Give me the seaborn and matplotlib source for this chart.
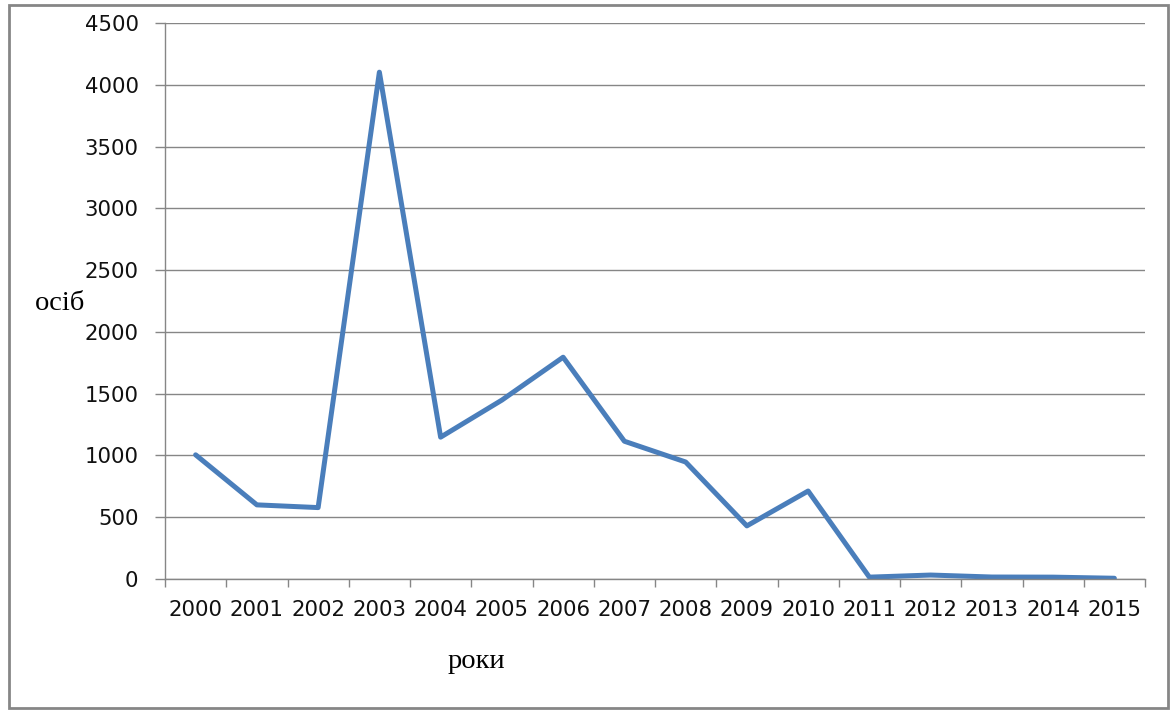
import matplotlib
matplotlib.use("Agg")
import matplotlib.pyplot as plt
import seaborn as sns
import pandas as pd
from matplotlib.patches import Rectangle
from matplotlib.ticker import FixedLocator

years = ["2000", "2001", "2002", "2003", "2004", "2005", "2006", "2007",
         "2008", "2009", "2010", "2011", "2012", "2013", "2014", "2015"]
persons = [1005, 600, 578, 4102, 1148, 1448, 1795, 1115, 947, 430, 712,
           15, 32, 16, 15, 6]
y_ticks = [0, 500, 1000, 1500, 2000, 2500, 3000, 3500, 4000, 4500]

df = pd.DataFrame({"year": years, "persons": persons})

sns.set_style("white")
plt.rcParams['font.family'] = ['DejaVu Sans']

fig = plt.figure(figsize=(11.73, 7.10), dpi=100)
ax = fig.add_axes([165 / 1173, 1 - 579 / 710, (1145 - 165) / 1173, (579 - 23) / 710])

sns.lineplot(data=df, x="year", y="persons", ax=ax, color="#4A7EBB",
             linewidth=3.6, sort=False)

ax.set_xlim(-0.5, len(years) - 0.5)
ax.set_ylim(0, 4500)
ax.set_yticks(y_ticks)
ax.set_yticklabels([str(v) for v in y_ticks], fontsize=15.3, color="#111111")
ax.set_xticks(range(len(years)))
ax.set_xticklabels(years, fontsize=15.3, color="#111111")
ax.xaxis.set_minor_locator(FixedLocator([i - 0.5 for i in range(len(years) + 1)]))
ax.tick_params(axis="x", which="major", bottom=True, length=0, pad=15)
ax.tick_params(axis="x", which="minor", bottom=True, length=6, width=1,
               color="#868686", direction="out")
ax.tick_params(axis="y", which="major", left=True, length=7, width=1,
               color="#868686", direction="out", pad=12)
ax.set_xlabel("")
ax.set_ylabel("")

ax.grid(axis="y", color="#868686", linewidth=1)
ax.grid(axis="x", visible=False)
ax.set_axisbelow(True)
for side in ["top", "right"]:
    ax.spines[side].set_visible(False)
for side in ["left", "bottom"]:
    ax.spines[side].set_color("#868686")
    ax.spines[side].set_linewidth(1)

fig.text(60 / 1173, 1 - 303 / 710, "осіб", fontsize=20.5, family=["Liberation Serif"],
         ha="center", va="center", color="#000000")
fig.text(476 / 1173, 1 - 661 / 710, "роки", fontsize=20.5, family=["Liberation Serif"],
         ha="center", va="center", color="#000000")

fig.patches.append(Rectangle((9 / 1173, 1 - 708 / 710), (1168 - 9) / 1173, (708 - 5) / 710,
                             transform=fig.transFigure, fill=False,
                             edgecolor="#868686", linewidth=2))

fig.savefig("out.png", dpi=100, facecolor="white")
